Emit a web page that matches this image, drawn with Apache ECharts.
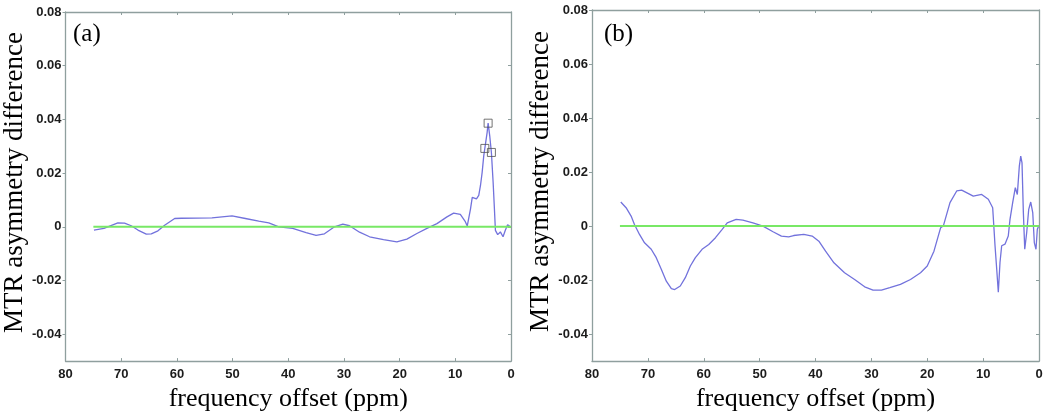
<!DOCTYPE html>
<html>
<head>
<meta charset="utf-8">
<script src="https://cdn.jsdelivr.net/npm/echarts@6/dist/echarts.min.js"></script>
<style>html,body{margin:0;padding:0;background:#fff}#c{width:1050px;height:417px}</style>
</head>
<body>
<div id="c"></div>
<script>
// ---- data ----
const xTicks = [0, 10, 20, 30, 40, 50, 60, 70, 80];
const yTicks = [-0.04, -0.02, 0, 0.02, 0.04, 0.06, 0.08];
const panelLabels = ['(a)', '(b)'];
const xTitle = 'frequency offset (ppm)';
const yTitle = 'MTR asymmetry difference';

const aPpm = [74.9,73.1,70.6,69.4,68.2,67.0,65.5,64.6,63.4,62.2,60.4,59.2,53.7,50.1,47.7,45.3,43.5,41.7,39.2,36.8,35.0,33.5,31.7,30.2,29.0,27.2,25.4,22.9,20.5,18.7,16.9,15.1,13.3,11.5,10.3,9.1,8.2,7.86,7.27,6.96,6.68,6.2,5.79,5.48,5.18,4.89,4.7,4.29,4.11,3.82,3.52,3.21,2.98,2.8,2.39,1.91,1.43,1.02,0.61,0.25];
const aVal = [-0.0012,-0.0006,0.0015,0.0014,0.0004,-0.0012,-0.0027,-0.0026,-0.0015,0.0006,0.0031,0.0032,0.0033,0.0041,0.0031,0.0021,0.0015,0.0000,-0.0006,-0.0022,-0.0032,-0.0026,0.0000,0.0010,0.0004,-0.0020,-0.0037,-0.0048,-0.0056,-0.0046,-0.0025,-0.0006,0.0012,0.0037,0.0051,0.0046,0.0019,0.0003,0.0067,0.0110,0.0110,0.0104,0.0117,0.0154,0.0203,0.0265,0.0292,0.0351,0.0386,0.0339,0.0277,0.0166,0.0067,-0.0013,-0.0029,-0.0019,-0.0037,-0.0013,0.0008,0.0003];
const aMarkPpm = [4.7, 4.11, 3.52];
const aMarkVal = [0.0292, 0.0386, 0.0277];

const bPpm = [74.85,73.9,73.0,72.4,71.5,70.6,69.4,68.5,67.6,66.7,65.8,65.2,64.2,63.3,62.4,61.5,60.3,59.1,57.9,56.7,55.8,54.2,53.0,51.2,49.4,47.6,46.1,44.8,43.9,42.1,40.6,39.4,38.2,36.7,34.8,33.0,31.2,29.7,28.2,26.7,24.8,23.0,21.2,20.0,18.8,17.6,17.13,15.93,14.73,13.84,11.76,10.26,9.07,8.29,8.05,7.87,7.57,7.28,6.98,6.68,6.09,5.5,5.19,4.71,4.24,3.88,3.52,3.27,3.04,2.8,2.55,2.2,1.84,1.48,1.12,0.84,0.54,0.3,0.05];
const bVal = [0.0089,0.0068,0.0037,0.0006,-0.0031,-0.0062,-0.0086,-0.0117,-0.0160,-0.0204,-0.0232,-0.0235,-0.0222,-0.0191,-0.0148,-0.0117,-0.0086,-0.0068,-0.0043,-0.0012,0.0012,0.0025,0.0022,0.0012,0.0000,-0.0021,-0.0037,-0.0040,-0.0035,-0.0031,-0.0037,-0.0056,-0.0093,-0.0136,-0.0173,-0.0198,-0.0225,-0.0237,-0.0237,-0.0228,-0.0216,-0.0198,-0.0173,-0.0148,-0.0093,-0.0006,0.0000,0.0087,0.0130,0.0133,0.0111,0.0117,0.0099,0.0068,-0.0012,-0.0073,-0.0159,-0.0245,-0.0135,-0.0073,-0.0067,-0.0037,0.0025,0.0087,0.0142,0.0117,0.0222,0.0259,0.0234,0.0050,-0.0086,-0.0024,0.0062,0.0089,0.0050,-0.0061,-0.0086,-0.0012,0.0000];

const zeroPpm = [75, 0];
const zeroVal = [0, 0];

// ---- chart ----
const zip = (xs, ys) => xs.map((x, i) => [x, ys[i]]);
const axisColor = '#8f9f9e';
const labelStyle = {color: '#1c1c1c', fontFamily: 'Liberation Sans', fontWeight: 'bold', fontSize: 13};
const serif = 'Liberation Serif';

const grids = [
  {left: 63, top: 12, width: 448, height: 351},
  {left: 592, top: 10, width: 447, height: 352}
];

function xAxes(gi) {
  return [
    {gridIndex: gi, type: 'value', inverse: true, min: 0, max: 80, interval: 10, position: 'bottom',
     axisLine: {show: true, onZero: false, lineStyle: {color: axisColor, width: 1.3}},
     axisTick: {show: true, inside: true, length: 3, lineStyle: {color: axisColor}},
     axisLabel: Object.assign({margin: 7, formatter: v => String(v)}, labelStyle),
     splitLine: {show: false},
     name: xTitle, nameLocation: 'middle', nameGap: 22,
     nameTextStyle: {fontFamily: serif, fontSize: 26, color: '#000', verticalAlign: 'top'}},
    {gridIndex: gi, type: 'value', inverse: true, min: 0, max: 80, interval: 10, position: 'top',
     axisLine: {show: true, onZero: false, lineStyle: {color: axisColor, width: 1.3}},
     axisTick: {show: true, inside: true, length: 3, lineStyle: {color: axisColor}},
     axisLabel: {show: false}, splitLine: {show: false}}
  ];
}
function yAxes(gi) {
  return [
    {gridIndex: gi, type: 'value', min: -0.05, max: 0.08, position: 'left',
     axisLine: {show: true, onZero: false, lineStyle: {color: axisColor, width: 1.3}},
     axisTick: {show: true, inside: false, length: 3, customValues: yTicks, lineStyle: {color: axisColor}},
     axisLabel: Object.assign({margin: 4, customValues: yTicks,
       formatter: v => (Math.abs(v) < 1e-9 ? '0' : v.toFixed(2))}, labelStyle),
     splitLine: {show: false},
     name: yTitle, nameLocation: 'middle', nameGap: 30,
     nameTextStyle: {fontFamily: serif, fontSize: 27, color: '#000', padding: [0, 0, 0, 8]}},
    {gridIndex: gi, type: 'value', min: -0.05, max: 0.08, position: 'right',
     axisLine: {show: true, onZero: false, lineStyle: {color: axisColor, width: 1.3}},
     axisTick: {show: true, inside: true, length: 3, customValues: yTicks, lineStyle: {color: axisColor}},
     axisLabel: {show: false}, splitLine: {show: false}}
  ];
}

const blue = '#7272dc';
const green = '#78e866';

const option = {
  animation: false,
  backgroundColor: '#fff',
  grid: grids,
  xAxis: [...xAxes(0), ...xAxes(1)],
  yAxis: [...yAxes(0), ...yAxes(1)],
  graphic: [
    {type: 'text', left: 73, top: 22, style: {text: panelLabels[0], font: '25px "Liberation Serif"', fill: '#000'}},
    {type: 'text', left: 604, top: 22, style: {text: panelLabels[1], font: '25px "Liberation Serif"', fill: '#000'}}
  ],
  series: [
    {type: 'line', xAxisIndex: 0, yAxisIndex: 0, data: zip(aPpm, aVal), showSymbol: false,
     lineStyle: {color: blue, width: 1.3}, z: 2},
    {type: 'line', xAxisIndex: 0, yAxisIndex: 0, data: zip(zeroPpm, zeroVal), showSymbol: false,
     lineStyle: {color: green, width: 2}, z: 3},
    {type: 'scatter', xAxisIndex: 0, yAxisIndex: 0, data: zip(aMarkPpm, aMarkVal), symbol: 'rect', symbolSize: 8,
     itemStyle: {color: 'rgba(0,0,0,0)', borderColor: '#505050', borderWidth: 1}, z: 4},
    {type: 'line', xAxisIndex: 2, yAxisIndex: 2, data: zip(bPpm, bVal), showSymbol: false,
     lineStyle: {color: blue, width: 1.3}, z: 2},
    {type: 'line', xAxisIndex: 2, yAxisIndex: 2, data: zip(zeroPpm, zeroVal), showSymbol: false,
     lineStyle: {color: green, width: 2}, z: 3}
  ]
};

const chart = echarts.init(document.getElementById('c'), null, {renderer: 'canvas'});
chart.setOption(option);
</script>
</body>
</html>
